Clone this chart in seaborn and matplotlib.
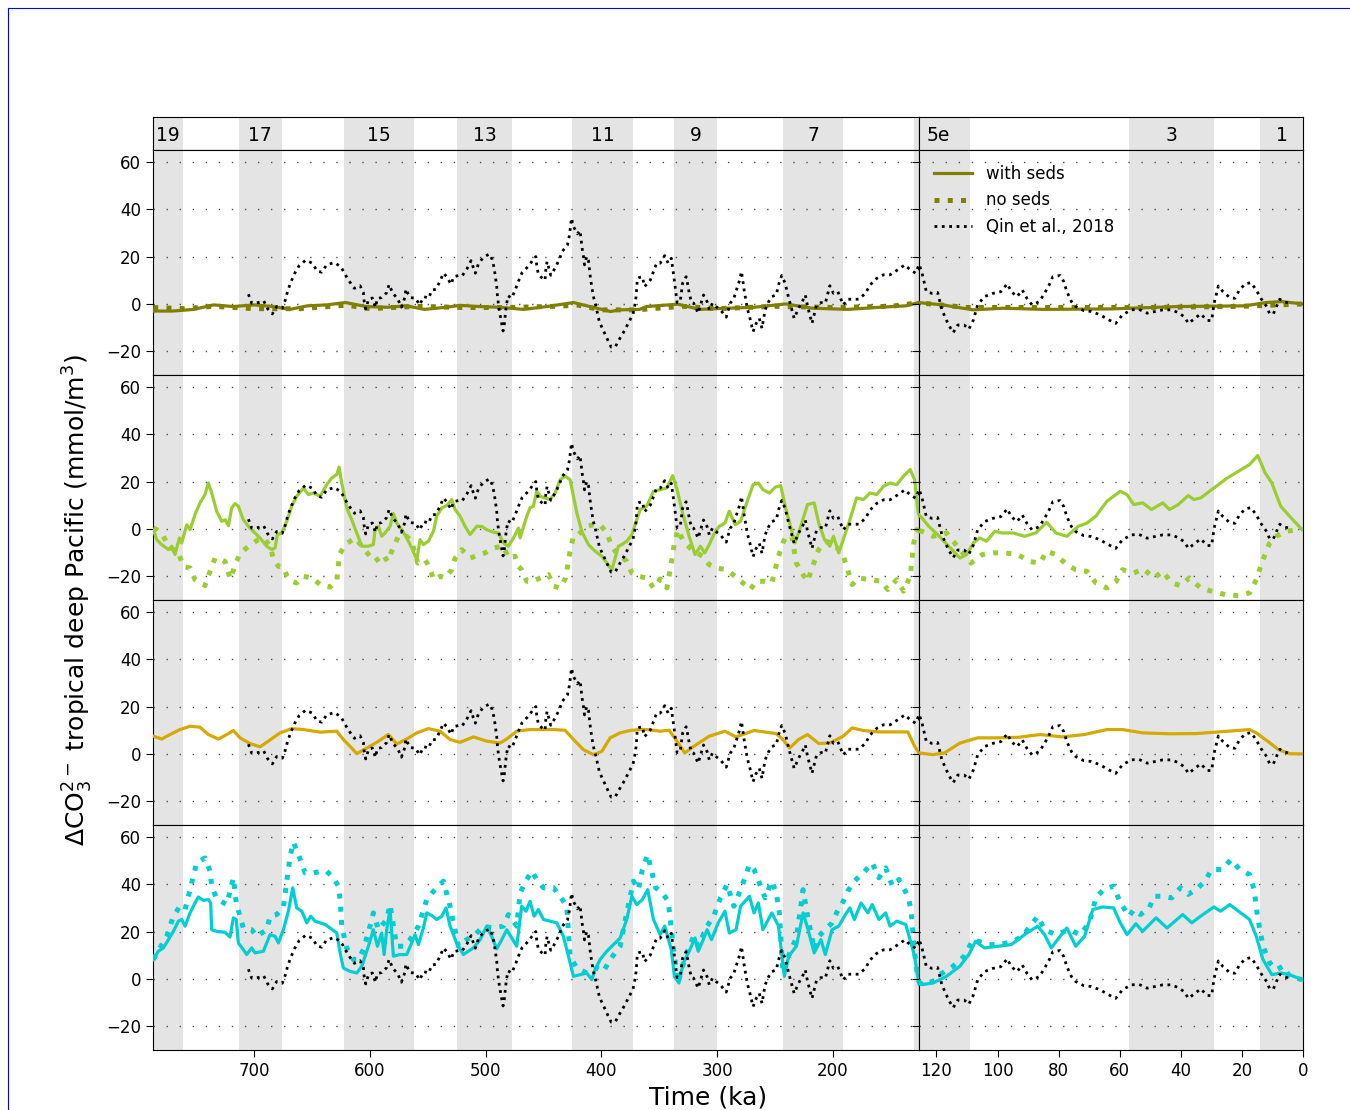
import numpy as np
import pandas as pd
import matplotlib
matplotlib.use("Agg")
import matplotlib.pyplot as plt
import seaborn as sns
from matplotlib.lines import Line2D

plt.rcParams['font.family'] = ['DejaVu Sans']

# ---------------- data (time in ka, value in mmol/m3) ----------------
qin = [(704.8,4.1),(701.9,0.3),(696.2,0.6),(691.6,1.3),(688.1,-2.1),(684.1,-4.2),(680.4,-1.1),(675.5,-1.8),
       (672.9,1.7),(670.9,5.5),(668.3,9.0),(665.1,12.7),(661.1,16.1),(655.3,18.5),(649.6,17.2),(645.5,13.9),
       (641.5,13.4),(637.2,16.5),(630.5,17.5),(624.8,15.6),(621.3,12.4),(617.3,9.3),(613.3,6.6),(608.4,7.7),
       (605.5,4.8),(604.9,1.4),(603.5,-2.1),(600.9,2.1),(597.7,2.5),(595.1,-1.4),(593.4,2.3),(589.7,2.7),
       (585.4,4.8),(583.3,8.2),(580.2,4.6),(575.8,2.1),(572.7,-1.4),(569.5,3.0),(568.9,6.3),(565.2,2.7),
       (560.3,2.4),(557.1,-0.4),(553.1,3.1),(549.1,2.4),(546.5,5.8),(543.0,6.2),(539.3,9.6),(536.4,13.0),
       (533.5,11.5),(529.8,8.3),(527.5,11.5),(523.4,12.0),(520.3,11.8),(516.0,14.9),(512.5,18.3),(510.5,15.2),
       (508.8,13.0),(506.2,16.9),(501.9,19.7),(496.7,21.1),(494.4,18.9),(492.6,15.2),(491.5,11.5),(490.4,7.6),
       (489.8,3.8),(488.9,-0.1),(487.8,-3.7),(486.3,-7.6),(484.9,-11.4),(483.7,-8.2),(482.9,-4.2),(482.0,-0.4),
       (480.6,3.4),(477.4,2.5),(474.2,6.2),(471.6,9.6),(468.5,13.2),(463.3,15.8),(459.2,18.5),(456.6,20.0),
       (455.8,16.3),(454.4,12.5),(451.5,11.1),(448.6,10.0),(448.0,14.4),(446.9,17.9),(443.7,12.1),(440.0,15.1),
       (436.5,18.6),(433.6,22.3),(429.3,24.9),(427.6,28.9),(425.8,36.2),(424.1,32.7),(420.7,29.6),(418.4,31.0),
       (416.6,23.5),(415.2,19.3),(414.6,16.5),(412.6,20.0),(411.2,18.5),(409.4,10.8),(408.3,7.3),(407.1,3.5),
       (405.1,-0.1),(401.7,-7.6),(398.5,-11.0),(395.1,-14.6),(391.6,-18.2),(388.1,-18.2),(384.1,-14.6),
       (380.1,-11.3),(376.3,-7.7),(372.6,-4.2),(371.2,-0.7),(370.0,3.1),(368.9,10.8),(367.7,11.1),(364.6,11.5),
       (362.7,7.3),(357.7,10.1),(355.0,13.7),(352.3,17.2),(349.2,17.2),(345.3,20.4),(342.3,17.2),(339.6,19.3),
       (337.6,12.3),(336.5,8.0),(334.6,0.6),(331.9,1.0),(329.9,8.7),(326.8,11.5),(325.3,8.0),(324.1,4.5),
       (322.2,0.6),(320.3,0.3),(316.4,-3.9),(311.8,3.8),(308.7,1.0),(306.8,-2.5),(304.1,0.3),(301.0,-1.1),
       (297.2,-2.5),(292.2,-5.6),(288.7,0.3),(285.6,2.4),(282.9,6.6),(280.6,10.1),(279.0,13.7),(276.7,5.9),
       (274.0,-1.8),(271.3,-6.8),(269.0,-11.7),(266.3,-8.2),(263.6,-6.1),(261.3,-10.3),(258.6,-2.5),(255.5,1.0),
       (252.8,3.1),(249.0,3.8),(246.7,8.5),(244.3,12.0),(241.3,8.7),(238.2,2.4),(233.5,-6.1),(229.7,-1.8),
       (225.8,1.7),(223.9,3.8),(221.9,-1.1),(218.1,-8.2),(214.3,-0.8),(210.4,0.6),(206.6,0.3),(202.7,7.7),
       (199.6,4.5),(195.8,5.2),(191.1,-0.4),(187.3,2.0),(183.4,2.0),(177.7,2.0),(171.9,4.5),(168.0,8.0),
       (162.2,10.8),(156.4,12.3),(150.7,12.3),(144.1,14.4),(137.9,16.5),(133.3,14.4),(128.7,13.0),(125.6,16.5),
       (124.7,13.0),(123.3,5.2),(121.5,4.5),(119.6,4.8),(118.2,-2.5),(116.0,-8.9),(114.5,-12.1),(113.0,-8.9),
       (110.9,-8.9),(109.4,-10.7),(107.9,-6.8),(106.5,-0.4),(104.3,3.1),(101.4,4.5),(98.9,5.2),(96.8,8.5),
       (95.5,5.2),(93.6,3.1),(91.9,5.9),(90.4,2.4),(88.7,-0.4),(86.3,1.0),(84.6,4.5),(83.1,8.0),(81.9,11.5),
       (79.5,12.0),(78.3,9.4),(77.3,5.2),(75.8,1.0),(74.4,-1.1),(71.8,-2.8),(69.3,-3.2),(66.4,-4.6),(63.9,-6.5),
       (61.3,-8.2),(59.1,-4.6),(56.2,-2.5),(53.7,-2.3),(51.0,-3.9),(48.4,-3.2),(45.9,-2.5),(43.0,-2.5),
       (40.8,-3.7),(38.9,-5.4),(37.5,-8.2),(35.4,-6.1),(33.5,-4.2),(31.3,-7.0),(29.9,-7.0),(29.1,0.3),(27.7,7.6),
       (26.2,5.2),(24.0,2.7),(22.3,2.4),(20.8,5.9),(18.9,8.5),(17.0,9.0),(15.3,5.9),(13.8,2.4),(11.9,-1.1),
       (10.9,-4.2),(9.7,-4.2),(8.7,-1.1),(7.6,2.0),(6.5,1.0),(4.4,0.3)]

seds_olive = [(787,-3.0),(770,-3.0),(752,-2.3),(735,-0.4),(718,-1.1),(700,-0.4),(683,-1.1),(669,-2.3),
              (654,-0.8),(637,-0.4),(621,0.6),(603,-1.1),(585,-1.4),(568,-0.8),(553,-2.3),(534,-1.4),
              (522,-0.6),(505,-1.1),(488,-1.4),(467,-2.3),(447,-1.1),(424,0.6),(410,-1.1),(392,-3.2),
              (384,-2.5),(367,-2.3),(361,-1.1),(334,-0.1),(315,-2.3),(291,-1.8),(268,-1.4),(241,0.0),
              (218,-1.8),(187,-2.3),(160,-1.4),(137,-0.8),(126,0.6),(118,-0.4),(108,-2.5),(98,-1.8),
              (85,-2.3),(63,-2.1),(41,-1.1),(19,-0.8),(12,0.6),(7,1.0),(0,0.0)]
noseds_olive = [(787,-1.5),(760,-2.0),(735,-1.0),(700,-2.0),(660,-2.0),(620,-0.5),(600,-2.0),(560,-1.0),
                (520,-1.5),(480,-1.5),(440,-1.0),(420,-0.5),(400,-2.5),(370,-2.5),(330,-1.0),(300,-2.0),
                (250,-1.0),(200,-1.5),(150,-1.0),(126,0.5),(110,-1.5),(80,-1.5),(50,-1.5),(20,-1.0),
                (10,-0.5),(0,0.0)]

seds_green = [(786.9,-0.3),(784.0,-4.5),(779.7,-6.6),(773.9,-8.7),(771.0,-7.3),(768.2,-10.8),(764.4,-3.8),
              (762.4,-5.9),(758.1,1.8),(755.2,-0.3),(750.9,6.1),(746.6,11.0),(742.3,14.5),(739.4,19.4),
              (736.5,15.2),(732.2,7.5),(727.9,3.2),(725.0,3.9),(722.1,1.4),(719.2,8.9),(716.3,10.7),
              (713.5,9.6),(709.2,3.9),(704.8,1.1),(700.5,-1.0),(694.8,-3.8),(689.0,-7.3),(684.7,-8.7),
              (681.8,-8.0),(679.8,-2.4),(676.0,-1.7),(671.7,3.2),(667.4,9.6),(663.1,13.8),(657.3,17.3),
              (653.0,14.5),(648.7,15.2),(642.9,13.8),(637.2,18.7),(632.9,21.5),(628.5,23.0),(626.5,26.1),
              (624.2,19.4),(619.9,8.9),(615.6,3.9),(611.2,-1.7),(606.9,-7.3),(601.2,-7.3),(596.9,-6.6),
              (595.4,-0.3),(592.5,1.1),(589.7,-3.1),(586.8,-1.7),(582.5,1.1),(579.6,6.5),(576.7,2.5),
              (572.4,-0.3),(568.1,-3.8),(563.8,-8.0),(559.4,-13.0),(556.6,-4.5),(553.7,-6.6),(549.4,-5.2),
              (545.0,-1.0),(542.2,5.4),(537.8,8.9),(533.5,9.9),(529.2,12.4),(526.3,8.2),(522.0,5.4),
              (517.7,1.1),(513.4,-2.4),(507.6,1.1),(503.3,1.1),(499.0,-0.3),(493.2,-1.4),(488.9,-1.7),
              (484.6,-5.9),(480.3,-7.3),(475.9,-3.8),(471.6,0.4),(470.2,-3.8),(464.4,5.4),(461.6,8.9),
              (458.7,9.6),(455.8,15.9),(452.9,13.8),(448.6,13.1),(444.3,12.4),(439.9,15.2),(435.6,20.8),
              (431.3,22.3),(427.0,20.8),(424.1,13.8),(421.2,6.8),(416.9,-1.0),(411.2,-6.6),(405.4,-9.4),
              (399.6,-11.5),(395.3,-14.4),(391.0,-17.2),(388.1,-12.3),(385.3,-7.3),(382.4,-6.6),(378.1,-5.2),
              (373.7,-2.4),(370.9,1.8),(366.5,8.2),(360.8,9.6),(355.0,15.9),(349.2,16.6),(343.4,17.3),
              (338.4,22.5),(334.6,16.6),(329.9,6.8),(324.2,-3.1),(319.1,-10.8),(314.5,-7.3),(310.7,-10.1),
              (306.8,-6.6),(303.0,-2.4),(298.3,1.1),(293.3,2.5),(289.5,7.5),(284.4,1.8),(279.8,3.2),
              (274.0,11.7),(269.0,18.7),(264.4,19.4),(260.5,16.6),(254.8,15.2),(249.7,17.7),(245.1,18.3),
              (241.3,9.6),(236.6,1.1),(232.8,-5.9),(227.8,1.1),(222.0,10.3),(216.2,11.0),(212.3,2.5),
              (207.3,-4.5),(202.7,-7.3),(199.6,-3.1),(195.0,-10.1),(191.1,-4.5),(185.4,3.9),(179.6,13.1),
              (173.8,12.4),(168.0,15.2),(162.2,14.5),(156.4,18.0),(150.7,19.4),(144.9,18.7),(139.1,22.3),
              (133.3,25.1),(129.5,20.8),(126.4,6.8),(124.7,4.6),(122.5,1.1),(119.6,-2.4),(116.0,-7.3),
              (112.3,-12.3),(110.1,-10.8),(107.9,-5.9),(105.8,-3.8),(103.6,-5.2),(100.9,-1.0),(98.5,-1.7),
              (94.8,-1.7),(91.2,-3.1),(87.5,-1.7),(83.9,2.8),(80.9,-1.7),(77.3,-3.1),(73.6,1.1),(70.7,2.5),
              (67.8,5.4),(64.2,11.7),(59.8,15.9),(57.6,14.5),(55.4,10.3),(52.5,11.0),(49.6,8.2),(45.9,11.0),
              (43.7,8.2),(40.8,10.3),(37.6,14.1),(35.7,12.4),(33.5,13.1),(30.6,15.9),(27.7,18.7),(24.8,21.5),
              (21.1,24.4),(17.5,27.2),(14.8,31.0),(12.4,23.7),(10.2,19.4),(7.3,9.6),(4.4,5.4),(0.3,-0.3)]
noseds_green = [(786.9,0.4),(784.0,-0.3),(778.2,-3.1),(773.9,-7.3),(769.6,-8.7),(765.3,-10.1),(761.0,-15.8),
                (755.2,-16.5),(750.9,-21.4),(742.3,-23.9),(737.9,-17.9),(733.6,-12.3),(729.3,-12.7),
                (725.0,-13.7),(722.1,-18.6),(720.1,-21.1),(716.3,-15.1),(712.0,-10.4),(704.8,-7.3),
                (696.2,-4.5),(691.9,-3.8),(686.1,-7.0),(683.2,-12.7),(678.9,-15.8),(674.6,-16.2),
                (671.7,-19.7),(667.4,-22.1),(663.1,-22.8),(657.3,-20.0),(650.1,-20.7),(641.5,-23.9),
                (634.3,-24.5),(628.5,-22.1),(626.2,-10.8),(621.3,-6.6),(612.7,-3.8),(599.8,-11.5),
                (595.4,-13.7),(588.2,-10.8),(584.8,-13.7),(581.0,-9.4),(575.3,-3.1),(568.1,-3.1),(563.8,-5.2),
                (558.6,-14.4),(552.2,-13.0),(548.0,-16.5),(545.0,-21.4),(539.3,-20.0),(535.0,-20.7),
                (529.2,-17.2),(526.3,-12.3),(520.6,-8.7),(513.4,-12.3),(507.6,-11.3),(500.4,-10.1),
                (493.2,-8.0),(484.6,-7.3),(480.3,-12.3),(474.5,-11.5),(471.6,-15.8),(468.8,-17.2),
                (464.4,-22.1),(458.7,-22.1),(452.9,-20.7),(445.7,-19.3),(441.4,-24.2),(435.6,-24.9),
                (430.9,-20.7),(427.0,-9.4),(424.1,-3.1),(419.8,-2.4),(412.6,1.1),(406.8,1.8),(401.1,1.8),
                (395.3,-1.7),(391.0,-7.3),(388.1,-9.4),(384.0,-10.8),(378.1,-13.7),(373.7,-18.6),(368.0,-20.0),
                (360.8,-20.7),(355.0,-24.9),(349.2,-21.1),(343.4,-24.9),(339.6,-14.4),(336.9,-5.9),(333.8,-0.3),
                (329.9,-4.5),(322.2,-8.7),(312.6,-11.5),(306.8,-15.1),(301.0,-16.5),(291.7,-17.2),(281.0,-21.4),
                (271.4,-25.6),(266.3,-22.1),(258.6,-22.1),(252.8,-22.8),(247.0,-11.5),(243.2,-5.9),(240.5,-3.1),
                (235.5,-3.1),(231.6,-14.4),(225.8,-19.3),(221.9,-22.1),(218.1,-16.5),(212.3,-8.7),(206.6,-5.2),
                (200.8,-5.9),(195.0,-8.7),(191.1,-11.5),(187.3,-17.2),(183.4,-23.5),(177.7,-20.7),(168.0,-21.4),
                (158.4,-22.1),(152.6,-25.6),(144.9,-21.4),(139.1,-26.3),(133.3,-20.0),(130.2,-5.9),(127.5,-0.3),
                (124.7,-1.0),(121.1,-3.1),(116.7,-1.7),(112.3,-8.7),(108.7,-14.4),(105.0,-10.8),(101.4,-10.1),
                (97.7,-10.1),(93.3,-10.8),(89.7,-13.7),(86.1,-14.4),(83.9,-9.4),(80.9,-10.8),(77.3,-15.1),
                (74.4,-17.2),(70.7,-17.9),(67.8,-22.8),(64.2,-24.9),(61.2,-22.1),(59.1,-17.2),(55.4,-18.6),
                (52.2,-16.9),(48.8,-20.7),(45.9,-17.9),(43.0,-22.8),(40.1,-23.9),(37.2,-20.7),(33.5,-24.9),
                (29.9,-26.3),(25.5,-27.7),(21.1,-28.2),(17.5,-27.0),(15.3,-21.4),(13.1,-13.0),(10.9,-5.9),
                (8.7,-3.1),(5.8,-1.0),(1.4,-0.3)]

seds_gold = [(786.9,7.5),(779.7,6.3),(772.5,8.2),(763.9,10.3),(755.2,11.7),(746.6,11.3),(739.4,8.2),(730.7,6.3),
             (723.5,8.2),(717.8,9.9),(712.0,6.8),(703.4,4.4),(694.8,3.0),(687.6,5.4),(677.5,8.9),(667.4,10.7),
             (657.3,10.3),(642.9,9.2),(628.5,9.6),(622.8,6.1),(615.6,2.5),(611.2,0.1),(602.6,2.5),(594.0,4.9),
             (583.9,8.2),(576.7,4.2),(568.1,6.3),(559.4,8.9),(549.4,10.7),(539.3,9.6),(530.7,6.1),(522.0,4.9),
             (510.5,7.2),(499.0,5.4),(487.5,4.6),(481.7,6.3),(473.1,9.6),(461.6,10.3),(452.9,10.3),(441.4,10.3),
             (431.3,10.0),(424.1,6.1),(415.5,1.8),(406.8,-0.3),(399.6,1.1),(392.4,6.8),(383.8,8.9),(375.2,9.9),
             (366.5,10.3),(360.8,10.3),(349.2,9.6),(341.5,10.0),(335.7,6.1),(328.0,0.4),(320.3,3.2),(306.8,7.5),
             (293.3,9.6),(283.7,7.2),(268.2,9.9),(249.0,8.6),(243.2,6.1),(237.4,2.5),(229.7,6.1),(222.0,8.2),
             (212.3,4.4),(202.7,4.6),(191.1,7.5),(183.4,11.0),(173.8,9.9),(160.3,9.3),(144.9,9.3),(135.3,9.3),
             (129.5,3.2),(125.6,0.4),(121.1,-0.3),(117.4,0.4),(112.3,4.6),(106.5,6.8),(100.6,6.8),(93.3,7.0),
             (86.1,8.2),(78.8,7.2),(71.5,8.2),(64.2,10.3),(59.1,10.3),(52.5,8.9),(43.7,8.5),(35.0,8.6),
             (27.7,9.3),(17.5,10.3),(15.3,8.9),(11.6,5.4),(8.0,1.8),(4.4,0.1),(0.3,0.0)]

seds_cyan = [(786.9,8.2),(782.6,11.7),(778.2,13.1),(773.9,16.6),(769.6,20.1),(765.3,24.4),(762.4,25.1),
             (759.5,22.3),(755.2,27.9),(750.9,32.1),(748.0,34.6),(743.7,33.2),(739.4,33.5),(737.4,32.1),
             (736.5,20.8),(732.2,20.1),(725.0,19.7),(720.7,17.7),(717.8,25.8),(715.3,25.1),(713.5,15.2),
             (709.2,12.4),(706.3,10.3),(702.0,13.1),(699.1,11.0),(691.9,11.7),(686.1,18.7),(681.8,18.0),
             (678.9,15.2),(674.6,20.8),(670.3,28.6),(666.5,38.5),(663.1,30.0),(658.7,28.6),(654.4,23.7),
             (651.0,26.5),(647.3,24.4),(642.9,23.7),(638.6,23.0),(634.3,21.5),(628.5,19.4),(625.6,11.0),
             (622.8,4.6),(617.0,3.2),(611.2,2.5),(606.9,5.4),(601.2,13.8),(596.9,20.8),(593.4,13.8),
             (589.7,19.4),(587.6,10.3),(585.4,20.8),(582.5,29.3),(579.6,9.6),(573.8,10.3),(568.1,10.3),
             (563.8,15.2),(560.9,18.7),(558.0,14.5),(553.7,21.5),(550.8,27.9),(546.5,26.8),(542.2,25.1),
             (537.8,26.5),(534.1,30.0),(530.7,22.3),(525.0,15.2),(519.2,10.3),(514.8,11.7),(510.5,13.1),
             (504.7,16.6),(499.0,22.3),(494.7,18.0),(490.4,12.7),(486.0,16.6),(481.7,20.8),(477.4,17.3),
             (473.1,13.8),(468.8,30.7),(465.0,28.6),(461.6,32.8),(458.1,26.5),(454.4,29.3),(450.0,25.1),
             (444.3,24.4),(438.5,23.7),(432.8,18.0),(428.4,9.6),(424.1,1.1),(418.4,1.8),(412.6,2.5),
             (408.3,-0.3),(405.4,3.9),(401.1,8.2),(395.3,11.7),(389.6,14.5),(383.8,17.3),(378.1,25.1),
             (373.7,34.9),(369.4,31.4),(364.6,33.5),(360.0,37.7),(355.0,25.1),(349.2,18.7),(345.3,22.3),
             (339.6,12.4),(336.9,1.1),(333.0,-1.7),(329.2,6.8),(324.2,11.7),(319.1,17.3),(316.4,11.7),
             (312.6,15.9),(308.7,20.8),(304.9,16.6),(299.1,23.7),(293.3,28.6),(289.5,19.4),(283.7,20.8),
             (279.8,30.7),(272.1,34.9),(268.2,27.9),(264.4,32.1),(260.5,20.8),(252.8,27.9),(247.0,22.3),
             (242.0,1.1),(238.2,9.6),(231.6,13.8),(225.8,27.9),(221.9,21.5),(216.2,11.0),(210.4,16.6),
             (206.6,10.3),(200.8,20.8),(195.0,22.3),(189.2,27.2),(185.4,30.0),(181.5,25.1),(175.7,32.1),
             (169.9,27.9),(166.1,31.4),(160.3,25.1),(154.5,27.9),(150.7,22.3),(144.9,24.4),(137.2,23.0),
             (132.6,15.2),(129.5,9.6),(126.4,-0.3),(124.7,-2.4),(121.1,-1.7),(116.7,1.1),(112.3,5.4),
             (109.4,10.3),(107.2,15.9),(104.3,13.1),(99.9,13.8),(95.5,14.5),(90.4,19.4),(86.8,22.3),
             (84.6,18.7),(82.4,13.1),(79.5,18.0),(77.3,21.5),(74.4,13.8),(71.5,18.0),(68.8,29.3),(65.6,30.4),
             (62.0,30.0),(59.8,23.7),(57.6,18.7),(54.7,23.3),(52.5,20.1),(48.1,25.8),(44.5,21.5),(39.4,27.2),
             (36.4,23.7),(33.5,26.5),(29.2,30.4),(27.0,28.6),(24.0,31.4),(21.1,28.6),(17.5,25.1),(15.3,18.0),
             (13.1,8.2),(10.2,1.8),(7.3,2.5),(4.4,1.8),(0.3,-0.3)]
noseds_cyan = [(786.9,8.2),(781.1,13.1),(775.4,18.0),(769.6,26.5),(763.9,30.7),(759.5,29.3),(755.2,37.7),
               (749.5,49.0),(742.3,51.1),(737.9,45.5),(736.5,39.2),(732.2,33.8),(723.5,31.4),(717.8,42.7),
               (715.3,32.1),(709.2,21.5),(702.0,20.8),(697.6,18.0),(689.0,20.8),(686.1,26.5),(680.4,27.2),
               (674.6,30.0),(671.7,41.3),(668.8,51.8),(665.9,57.7),(661.6,52.5),(655.9,44.8),(648.7,44.8),
               (641.5,45.5),(637.2,45.5),(631.4,42.7),(627.1,39.2),(625.6,33.5),(624.2,22.3),(619.9,13.1),
               (614.1,8.2),(609.8,8.2),(605.5,12.4),(599.8,22.3),(596.9,27.9),(592.5,20.8),(585.4,25.1),
               (582.5,31.4),(576.7,13.8),(570.9,13.8),(565.2,16.6),(558.0,22.3),(550.8,33.5),(545.0,37.0),
               (536.4,41.3),(530.7,30.7),(523.4,13.8),(516.3,16.6),(509.1,18.7),(501.9,22.3),(493.2,21.5),
               (484.6,22.3),(480.3,27.2),(473.1,22.3),(470.2,36.3),(464.4,42.0),(460.1,45.5),(455.8,42.0),
               (450.0,38.5),(441.4,38.5),(435.6,34.9),(429.9,30.7),(427.0,9.6),(421.2,4.6),(412.6,2.5),
               (404.0,4.6),(398.2,3.2),(392.4,8.2),(383.8,13.8),(378.1,27.9),(372.3,41.3),(368.0,37.7),
               (364.6,46.2),(360.0,52.5),(357.7,47.6),(353.1,38.5),(347.3,36.3),(342.3,32.8),(337.6,12.4),
               (333.8,-1.7),(329.9,5.4),(326.1,11.0),(320.3,18.0),(316.4,13.8),(308.7,22.3),(303.0,26.5),
               (297.2,34.2),(291.4,39.9),(285.6,30.7),(279.8,37.7),(276.0,42.7),(272.1,48.3),(268.2,46.2),
               (262.5,39.2),(258.6,34.2),(252.8,41.3),(249.0,36.3),(246.3,27.9),(243.2,2.5),(237.4,11.0),
               (231.6,17.3),(225.8,37.7),(221.9,26.5),(216.2,12.4),(212.3,18.0),(206.6,20.8),(200.8,23.7),
               (196.9,27.9),(191.1,32.8),(187.3,37.0),(181.5,41.3),(173.8,44.8),(166.1,49.0),(160.3,42.7),
               (154.5,46.9),(148.7,39.2),(143.0,42.0),(135.2,34.9),(132.6,29.3),(129.5,11.0),(126.4,-0.3),
               (124.7,-2.4),(121.1,-1.0),(118.9,1.8),(114.5,5.4),(110.9,9.6),(108.0,16.6),(102.9,14.5),
               (99.2,14.5),(94.8,15.9),(91.9,18.0),(89.3,22.3),(86.8,26.5),(84.6,20.8),(80.9,18.7),(76.6,20.8),
               (72.9,18.7),(70.0,23.7),(67.8,34.2),(65.3,37.7),(62.0,39.2),(59.8,32.1),(56.9,26.5),(55.4,29.3),
               (53.2,27.2),(50.3,30.0),(48.8,34.9),(45.9,34.9),(43.0,34.2),(40.1,38.5),(37.6,35.7),(35.0,37.7),
               (32.1,41.3),(29.9,46.2),(26.5,46.2),(23.6,50.4),(20.7,46.2),(17.5,44.1),(16.0,37.7),(14.9,26.5),
               (13.1,13.8),(10.9,6.8),(8.7,3.9),(6.5,5.4),(4.4,1.1),(0.3,-0.3)]

mis_labels = ['19', '17', '15', '13', '11', '9', '7', '5e', '3', '1']
mis_bands = [(790, 761), (713, 676), (622, 562), (525, 477), (425, 373), (337, 300), (243, 191),
             (130, 109), (57, 29), (14, 0)]
mis_label_pos = [774, 694.5, 592, 501, 399, 318.5, 217, 119.5, 43, 7]

yticks = [-20, 0, 20, 40, 60]
xticks_left = [700, 600, 500, 400, 300, 200]
xticks_right = [120, 100, 80, 60, 40, 20, 0]

rows = [
    ('#808000', seds_olive, noseds_olive),
    ('#9acd32', seds_green, noseds_green),
    ('#d4aa00', seds_gold, None),
    ('#00ced1', seds_cyan, noseds_cyan),
]

# ---------------- layout ----------------
W, H = 1350, 1110
fig = plt.figure(figsize=(13.5, 11.1), dpi=100)

def px_axes(x0, x1, y0, y1):
    return fig.add_axes([x0 / W, 1 - y1 / H, (x1 - x0) / W, (y1 - y0) / H])

XL, XM, XR = 153, 919, 1303
xlim_left = (787.2, 125.7)
xlim_right = (125.7, 0)
band_color = '#e4e4e4'

def shade(ax):
    for a, b in mis_bands:
        ax.axvspan(b, a, color=band_color, lw=0, zorder=0.2)

# top strip
for (x0, x1, xl) in [(XL, XM, xlim_left), (XM, XR, xlim_right)]:
    ax = px_axes(x0, x1, 117, 150)
    shade(ax)
    ax.set_xlim(*xl)
    ax.set_ylim(0, 1)
    ax.set_xticks([])
    ax.set_yticks([])
    lo, hi = min(xl), max(xl)
    for lab, pos in zip(mis_labels, mis_label_pos):
        if lo < pos < hi:
            ax.text(pos, 0.45, lab, ha='center', va='center', fontsize=13.5)

def draw(ax, pairs, **kw):
    df = pd.DataFrame(pairs, columns=['t', 'v'])
    sns.lineplot(data=df, x='t', y='v', ax=ax, estimator=None, sort=False, **kw)

qin_df = qin
for i, (col, seds, noseds) in enumerate(rows):
    y0 = 150 + 225 * i
    y1 = y0 + 225
    for j, (x0, x1, xl) in enumerate([(XL, XM, xlim_left), (XM, XR, xlim_right)]):
        ax = px_axes(x0, x1, y0, y1)
        shade(ax)
        ax.set_axisbelow(True)
        ax.yaxis.grid(True, color='0.3', linewidth=1.0, linestyle=(0, (1, 8.4)))
        draw(ax, seds, color=col, linewidth=2.3, zorder=3)
        if noseds is not None:
            draw(ax, noseds, color=col, linewidth=3.6, linestyle=':', zorder=3)
        draw(ax, qin, color='black', linewidth=2.0, linestyle=':', zorder=4)
        ax.set_xlim(*xl)
        ax.set_ylim(-30, 65)
        ax.set_yticks(yticks)
        ax.set_xlabel('')
        ax.set_ylabel('')
        ax.tick_params(axis='both', labelsize=12, direction='out', length=5)
        if j == 1:
            ax.tick_params(axis='y', labelleft=False)
        if i == 3:
            ax.set_xticks(xticks_left if j == 0 else xticks_right)
        else:
            ax.tick_params(axis='x', bottom=False, labelbottom=False)
        if i == 0 and j == 1:
            handles = [Line2D([], [], color=col, lw=2.3),
                       Line2D([], [], color=col, lw=3.6, ls=':'),
                       Line2D([], [], color='black', lw=2.0, ls=':')]
            ax.legend(handles, ['with seds', 'no seds', 'Qin et al., 2018'], loc='upper left',
                      frameon=False, fontsize=12, handlelength=2.3)

fig.text(78 / W, 1 - 600 / H, r'$\Delta$CO$_3^{2-}$ tropical deep Pacific (mmol/m$^3$)',
         rotation=90, ha='center', va='center', fontsize=18)
fig.text(708 / W, 1 - 1097 / H, 'Time (ka)', ha='center', va='center', fontsize=18)

# page frame lines visible in the reference
fig.add_artist(Line2D([8 / W, 1], [1 - 8 / H, 1 - 8 / H], transform=fig.transFigure, color='blue', lw=0.8))
fig.add_artist(Line2D([8 / W, 8 / W], [0, 1 - 8 / H], transform=fig.transFigure, color='blue', lw=0.8))

fig.savefig('out.png', dpi=100)
